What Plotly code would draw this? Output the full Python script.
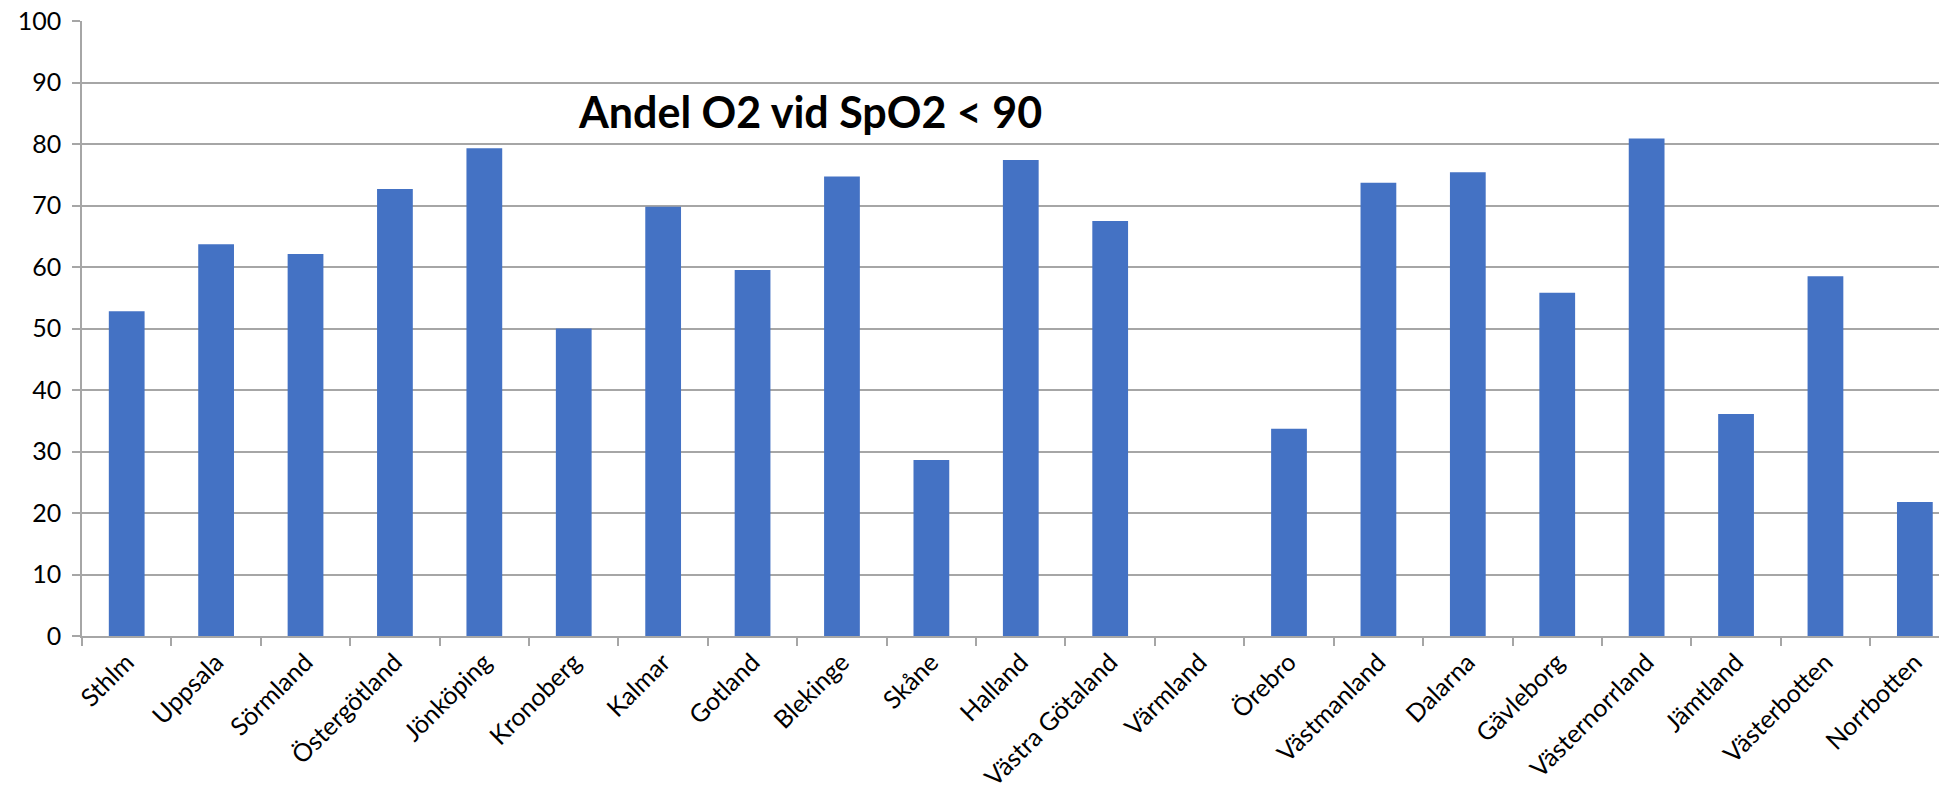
import plotly.graph_objects as go

regions = ["Sthlm", "Uppsala", "Sörmland", "Östergötland", "Jönköping", "Kronoberg",
           "Kalmar", "Gotland", "Blekinge", "Skåne", "Halland", "Västra Götaland",
           "Värmland", "Örebro", "Västmanland", "Dalarna", "Gävleborg",
           "Västernorrland", "Jämtland", "Västerbotten", "Norrbotten"]
values = [52.8, 63.7, 62.1, 72.7, 79.3, 50.0,
          69.8, 59.5, 74.7, 28.6, 77.4, 67.5,
          None, 33.7, 73.7, 75.4, 55.8,
          80.9, 36.1, 58.5, 21.8]
y_ticks = [0, 10, 20, 30, 40, 50, 60, 70, 80, 90, 100]
title_text = "Andel O2 vid SpO2 < 90"

fig = go.Figure()
fig.add_trace(go.Bar(
    x=regions, y=values,
    marker=dict(color="#4472C4", line=dict(width=0)),
    showlegend=False,
))

fig.update_layout(
    width=1931, height=777,
    margin=dict(l=74, r=0, t=13, b=149, autoexpand=False),
    paper_bgcolor="white", plot_bgcolor="white",
    bargap=0.6,
    font=dict(family="Lato, Noto Sans, sans-serif", size=24, color="#000000"),
    annotations=[dict(
        text="<b>" + title_text + "</b>",
        xref="paper", yref="paper",
        x=0.392, y=0.853,
        xanchor="center", yanchor="middle",
        showarrow=False,
        font=dict(family="Lato, sans-serif", size=43, color="#000000"),
    )],
)

fig.update_xaxes(
    type="category",
    range=[-0.5, 20.27],
    tickangle=-45,
    automargin=False,
    ticklabeloverflow="allow",
    showline=True, linecolor="#a6a6a6", linewidth=1.5,
    ticks="outside", ticklen=8, tickcolor="#a6a6a6", tickwidth=1.5,
    tickson="boundaries",
    showgrid=False,
    tickfont=dict(size=25, family="Lato, sans-serif", color="#000000"),
)
fig.update_yaxes(
    range=[0, 100],
    tickvals=y_ticks,
    automargin=False,
    ticklabeloverflow="allow",
    showline=True, linecolor="#a6a6a6", linewidth=1.5,
    ticks="outside", ticklen=8, tickcolor="#a6a6a6", tickwidth=1.5,
    showgrid=True, gridcolor="#a6a6a6", gridwidth=1.5,
    zeroline=False,
    ticklabelstandoff=6,
    tickfont=dict(size=25, family="Lato, sans-serif", color="#000000"),
)

fig.write_html("out.html")
